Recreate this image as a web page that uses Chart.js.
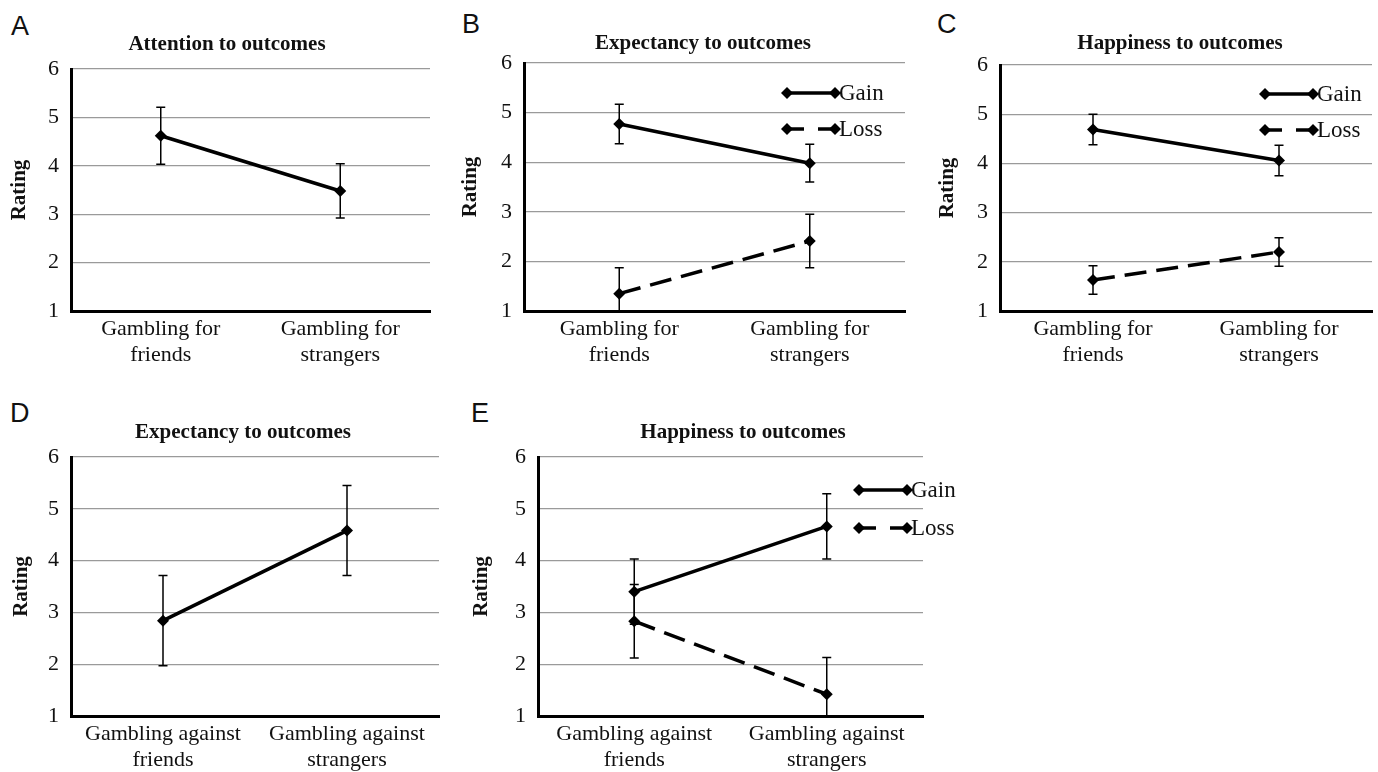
<!DOCTYPE html>
<html>
<head>
<meta charset="utf-8">
<title>Gambling ratings</title>
<script src="https://cdn.jsdelivr.net/npm/chart.js@4.4.1/dist/chart.umd.min.js"></script>
<style>
    body { margin: 0; background: #fff; }
    #page { position: relative; width: 1378px; height: 772px; overflow: hidden; }
    .panel { position: absolute; }
    .letter { position: absolute; font-family: 'Liberation Sans', Arial, sans-serif; font-size: 27px; line-height: 1; color: #111; }
</style>
</head>
<body>
<div id="page">
    <div class="letter" style="left:11px;top:13px">A</div>
    <div class="letter" style="left:462px;top:11px">B</div>
    <div class="letter" style="left:937px;top:11px">C</div>
    <div class="letter" style="left:10px;top:400px">D</div>
    <div class="letter" style="left:471px;top:400px">E</div>
    <canvas id="chartA" class="panel"></canvas>
    <canvas id="chartB" class="panel"></canvas>
    <canvas id="chartC" class="panel"></canvas>
    <canvas id="chartD" class="panel"></canvas>
    <canvas id="chartE" class="panel"></canvas>
</div>
<script>
// categories
const forLabels = [['Gambling for', 'friends'], ['Gambling for', 'strangers']];
const againstLabels = [['Gambling against', 'friends'], ['Gambling against', 'strangers']];
const yTicks = [1, 2, 3, 4, 5, 6];

// A - attention
const attention = [4.62, 3.48];
const attentionErr = [0.59, 0.56];

// B - expectancy, gambling for
const expectancyForGain = [4.77, 3.98];
const expectancyForGainErr = [0.40, 0.38];
const expectancyForLoss = [1.35, 2.41];
const expectancyForLossErr = [0.52, 0.54];

// C - happiness, gambling for
const happinessForGain = [4.69, 4.06];
const happinessForGainErr = [0.31, 0.31];
const happinessForLoss = [1.63, 2.20];
const happinessForLossErr = [0.29, 0.29];

// D - expectancy, gambling against
const expectancyAgainst = [2.84, 4.58];
const expectancyAgainstErr = [0.87, 0.87];

// E - happiness, gambling against
const happinessAgainstGain = [3.40, 4.66];
const happinessAgainstGainErr = [0.63, 0.63];
const happinessAgainstLoss = [2.83, 1.42];
const happinessAgainstLossErr = [0.71, 0.71];

const serif = "'Liberation Serif', 'Times New Roman', serif";
const LOSS_DASH = [22, 10];

// error bars are drawn under the lines, clipped to the plot
const errorBars = {
    id: 'errorBars',
    beforeDatasetsDraw(chart) {
        const ctx = chart.ctx;
        const area = chart.chartArea;
        const xs = chart.scales.x;
        const ys = chart.scales.y;
        ctx.save();
        ctx.beginPath();
        ctx.rect(area.left, area.top, area.right - area.left, area.bottom - area.top);
        ctx.clip();
        ctx.strokeStyle = '#000';
        ctx.lineWidth = 1.5;
        chart.data.datasets.forEach(ds => {
            if (!ds.errors) return;
            ds.data.forEach((v, i) => {
                const px = xs.getPixelForValue(i);
                const top = ys.getPixelForValue(v + ds.errors[i]);
                const bot = ys.getPixelForValue(v - ds.errors[i]);
                ctx.beginPath();
                ctx.moveTo(px, top); ctx.lineTo(px, bot);
                ctx.moveTo(px - 4.5, top); ctx.lineTo(px + 4.5, top);
                ctx.moveTo(px - 4.5, bot); ctx.lineTo(px + 4.5, bot);
                ctx.stroke();
            });
        });
        ctx.restore();
    }
};

const panelTitle = {
    id: 'panelTitle',
    afterDraw(chart, args, opts) {
        const ctx = chart.ctx;
        ctx.save();
        ctx.font = 'bold 21px ' + serif;
        ctx.fillStyle = '#111';
        ctx.textAlign = 'center';
        ctx.textBaseline = 'alphabetic';
        ctx.fillText(opts.text, opts.x, opts.y);
        ctx.restore();
    }
};

function diamond(ctx, x, y, r) {
    ctx.beginPath();
    ctx.moveTo(x, y - r);
    ctx.lineTo(x + r, y);
    ctx.lineTo(x, y + r);
    ctx.lineTo(x - r, y);
    ctx.closePath();
    ctx.fill();
}

// small in-plot key: line sample with a diamond at each end
const lineKey = {
    id: 'lineKey',
    afterDraw(chart, args, opts) {
        if (!opts.show) return;
        const ctx = chart.ctx;
        chart.data.datasets.forEach((ds, i) => {
            const y = opts.y + i * opts.gap;
            ctx.save();
            ctx.strokeStyle = '#000';
            ctx.fillStyle = '#000';
            ctx.lineWidth = ds.borderWidth;
            ctx.setLineDash(ds.borderDash && ds.borderDash.length ? [17, 14] : []);
            ctx.beginPath();
            ctx.moveTo(opts.x, y);
            ctx.lineTo(opts.x + opts.len, y);
            ctx.stroke();
            ctx.setLineDash([]);
            diamond(ctx, opts.x, y, 6);
            diamond(ctx, opts.x + opts.len, y, 6);
            ctx.font = '23px ' + serif;
            ctx.fillStyle = '#111';
            ctx.textBaseline = 'middle';
            ctx.fillText(ds.label, opts.x + opts.len + 4, y + 1);
            ctx.restore();
        });
    }
};

function series(label, data, errors, dashed) {
    return {
        label: label,
        data: data,
        errors: errors,
        borderColor: '#000',
        backgroundColor: '#000',
        borderWidth: 3.5,
        borderDash: dashed ? LOSS_DASH : [],
        pointStyle: 'rectRot',
        pointRadius: 6,
        pointHoverRadius: 6,
        pointBorderWidth: 0,
        tension: 0
    };
}

function makePanel(p) {
    const [bx, by, bw, bh] = p.box;
    const [l, t, r, b] = p.area;
    const canvas = document.getElementById(p.id);
    canvas.width = bw;
    canvas.height = bh;
    canvas.style.left = bx + 'px';
    canvas.style.top = by + 'px';

    new Chart(canvas.getContext('2d'), {
        type: 'line',
        data: { labels: p.labels, datasets: p.datasets },
        plugins: [errorBars, panelTitle, lineKey],
        options: {
            responsive: false,
            animation: false,
            events: [],
            layout: { padding: { top: t - by, left: 0, right: bx + bw - r, bottom: 0 } },
            plugins: {
                legend: { display: false },
                tooltip: { enabled: false },
                panelTitle: { text: p.title, x: p.titleAt[0] - bx, y: p.titleAt[1] - by },
                lineKey: p.key
                    ? { show: true, x: p.key[0] - bx, y: p.key[1] - by, gap: p.key[2], len: 48 }
                    : { show: false }
            },
            scales: {
                x: {
                    type: 'category',
                    offset: true,
                    grid: { display: false, drawTicks: false },
                    border: { display: true, color: '#000', width: 3 },
                    ticks: {
                        color: '#111',
                        padding: 6,
                        maxRotation: 0,
                        autoSkip: false,
                        font: { family: serif, size: 22, lineHeight: 1.15 }
                    },
                    afterFit: (s) => { s.height = by + bh - b; }
                },
                y: {
                    min: yTicks[0],
                    max: yTicks[yTicks.length - 1],
                    grid: { color: '#9a9a9a', lineWidth: 1.3, drawTicks: false },
                    border: { display: true, color: '#000', width: 3 },
                    ticks: {
                        stepSize: 1,
                        color: '#111',
                        padding: 12,
                        font: { family: serif, size: 22 }
                    },
                    title: {
                        display: true,
                        text: 'Rating',
                        color: '#111',
                        font: { family: serif, size: 21, weight: 'bold', lineHeight: 1.2 },
                        padding: { top: p.ratingX - bx - 12.6, bottom: 0 }
                    },
                    afterFit: (s) => { s.width = l - bx; }
                }
            }
        }
    });
}

const panels = [
    {
        id: 'chartA', box: [0, 0, 455, 385], area: [71, 69, 430, 311],
        title: 'Attention to outcomes', titleAt: [227, 50], ratingX: 20,
        labels: forLabels,
        datasets: [series('Attention', attention, attentionErr, false)]
    },
    {
        id: 'chartB', box: [455, 0, 460, 385], area: [524, 63, 905, 311],
        title: 'Expectancy to outcomes', titleAt: [703, 49], ratingX: 471,
        labels: forLabels, key: [787, 93, 36],
        datasets: [
            series('Gain', expectancyForGain, expectancyForGainErr, false),
            series('Loss', expectancyForLoss, expectancyForLossErr, true)
        ]
    },
    {
        id: 'chartC', box: [915, 0, 463, 385], area: [1000, 65, 1375, 311],
        title: 'Happiness to outcomes', titleAt: [1180, 49], ratingX: 948,
        labels: forLabels, key: [1265, 94, 36],
        datasets: [
            series('Gain', happinessForGain, happinessForGainErr, false),
            series('Loss', happinessForLoss, happinessForLossErr, true)
        ]
    },
    {
        id: 'chartD', box: [0, 385, 455, 387], area: [71, 457, 439, 716],
        title: 'Expectancy to outcomes', titleAt: [243, 438], ratingX: 22,
        labels: againstLabels,
        datasets: [series('Expectancy', expectancyAgainst, expectancyAgainstErr, false)]
    },
    {
        id: 'chartE', box: [455, 385, 515, 387], area: [538, 457, 923, 716],
        title: 'Happiness to outcomes', titleAt: [743, 438], ratingX: 482,
        labels: againstLabels, key: [859, 490, 38],
        datasets: [
            series('Gain', happinessAgainstGain, happinessAgainstGainErr, false),
            series('Loss', happinessAgainstLoss, happinessAgainstLossErr, true)
        ]
    }
];

document.addEventListener('DOMContentLoaded', function() {
    panels.forEach(makePanel);
});
</script>
</body>
</html>
